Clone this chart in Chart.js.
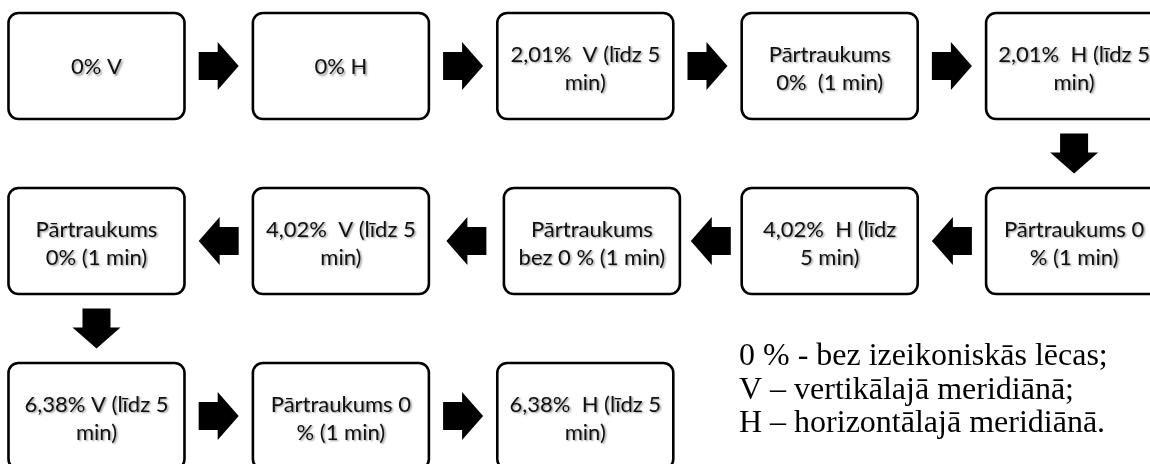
<!DOCTYPE html>
<html>
<head>
<meta charset="utf-8">
<script src="https://cdn.jsdelivr.net/npm/chart.js@4"></script>
<style>
  html, body { margin: 0; padding: 0; background: #ffffff; }
  #wrap { width: 1150px; height: 464px; position: relative; }
</style>
</head>
<body>
<div id="wrap"><canvas id="c"></canvas></div>
<script>
// Flow steps (in order), their grid column and row
const stepLabels = [
  "0% V",
  "0% H",
  "2,01%  V (līdz 5\nmin)",
  "Pārtraukums\n0%  (1 min)",
  "2,01%  H (līdz 5\nmin)",
  "Pārtraukums 0\n% (1 min)",
  "4,02%  H (līdz\n5 min)",
  "Pārtraukums\nbez 0 % (1 min)",
  "4,02%  V (līdz 5\nmin)",
  "Pārtraukums\n0% (1 min)",
  "6,38% V (līdz 5\nmin)",
  "Pārtraukums 0\n% (1 min)",
  "6,38%  H (līdz 5\nmin)"
];
const stepColumns = [0, 1, 2, 3, 4, 4, 3, 2.027, 1, 0, 0, 1, 2];
const stepRows    = [0, 0, 0, 0, 0, 1, 1, 1, 1, 1, 2, 2, 2];
const legendLines = [
  "0 % - bez izeikoniskās lēcas;",
  "V – vertikālajā meridiānā;",
  "H – horizontālajā meridiānā."
];

const points = stepColumns.map((c, i) => ({ x: c, y: stepRows[i] }));

const STYLE = {
  boxW: 176, boxH: 106, radius: 10, border: 2.6,
  font: '22px Lato', lineH: 28, textShift: 2.5,
  arrowLen: 40, shaftLen: 19, shaftW: 28, headW: 48,
  legendFont: '32px "Liberation Serif"', legendX: 739, legendY0: 365, legendLH: 33.5
};

function roundRect(ctx, x, y, w, h, r) {
  ctx.beginPath();
  ctx.moveTo(x + r, y);
  ctx.lineTo(x + w - r, y);
  ctx.arcTo(x + w, y, x + w, y + r, r);
  ctx.lineTo(x + w, y + h - r);
  ctx.arcTo(x + w, y + h, x + w - r, y + h, r);
  ctx.lineTo(x + r, y + h);
  ctx.arcTo(x, y + h, x, y + h - r, r);
  ctx.lineTo(x, y + r);
  ctx.arcTo(x, y, x + r, y, r);
  ctx.closePath();
}

const flowPlugin = {
  id: 'flow',
  afterDatasetsDraw(chart) {
    const ctx = chart.ctx;
    const els = chart.getDatasetMeta(0).data;
    const S = STYLE;
    ctx.save();
    // boxes
    els.forEach((el, i) => {
      const x = el.x - S.boxW / 2, y = el.y - S.boxH / 2;
      roundRect(ctx, x, y, S.boxW, S.boxH, S.radius);
      ctx.fillStyle = '#ffffff';
      ctx.fill();
      ctx.lineWidth = S.border;
      ctx.strokeStyle = '#000000';
      ctx.stroke();
      // text
      const lines = stepLabels[i].split('\n');
      ctx.font = S.font;
      ctx.textAlign = 'center';
      ctx.textBaseline = 'middle';
      ctx.save();
      ctx.shadowColor = 'rgba(0,0,0,0.4)';
      ctx.shadowBlur = 2;
      ctx.shadowOffsetX = 1.5;
      ctx.shadowOffsetY = 1.5;
      ctx.fillStyle = '#111111';
      const startY = el.y + (lines.length > 1 ? S.textShift : 1) - (lines.length - 1) * S.lineH / 2;
      lines.forEach((t, k) => ctx.fillText(t, el.x, startY + k * S.lineH));
      ctx.restore();
    });
    // arrows between consecutive steps
    for (let i = 0; i < els.length - 1; i++) {
      const a = els[i], b = els[i + 1];
      const mx = (a.x + b.x) / 2, my = (a.y + b.y) / 2;
      const ang = Math.atan2(b.y - a.y, b.x - a.x);
      ctx.save();
      ctx.translate(mx, my);
      ctx.rotate(ang);
      const L = S.arrowLen, h0 = -L / 2, hs = h0 + S.shaftLen;
      ctx.beginPath();
      ctx.moveTo(h0, -S.shaftW / 2);
      ctx.lineTo(hs, -S.shaftW / 2);
      ctx.lineTo(hs, -S.headW / 2);
      ctx.lineTo(L / 2, 0);
      ctx.lineTo(hs, S.headW / 2);
      ctx.lineTo(hs, S.shaftW / 2);
      ctx.lineTo(h0, S.shaftW / 2);
      ctx.closePath();
      ctx.fillStyle = '#000000';
      ctx.fill();
      ctx.restore();
    }
    // legend text
    ctx.font = S.legendFont;
    ctx.textAlign = 'left';
    ctx.textBaseline = 'alphabetic';
    ctx.fillStyle = '#000000';
    legendLines.forEach((t, k) => ctx.fillText(t, S.legendX, S.legendY0 + k * S.legendLH));
    ctx.restore();
  }
};

new Chart(document.getElementById('c'), {
  type: 'scatter',
  data: {
    datasets: [{
      data: points,
      pointRadius: 0,
      pointHoverRadius: 0,
      showLine: false
    }]
  },
  options: {
    responsive: true,
    maintainAspectRatio: false,
    animation: false,
    events: [],
    layout: { padding: 0 },
    plugins: { legend: { display: false }, tooltip: { enabled: false }, title: { display: false } },
    scales: {
      x: { type: 'linear', display: false, min: -0.3948, max: 4.3106 },
      y: { type: 'linear', display: false, reverse: true, min: -0.3771, max: 2.2743 }
    }
  },
  plugins: [flowPlugin]
});
</script>
</body>
</html>
